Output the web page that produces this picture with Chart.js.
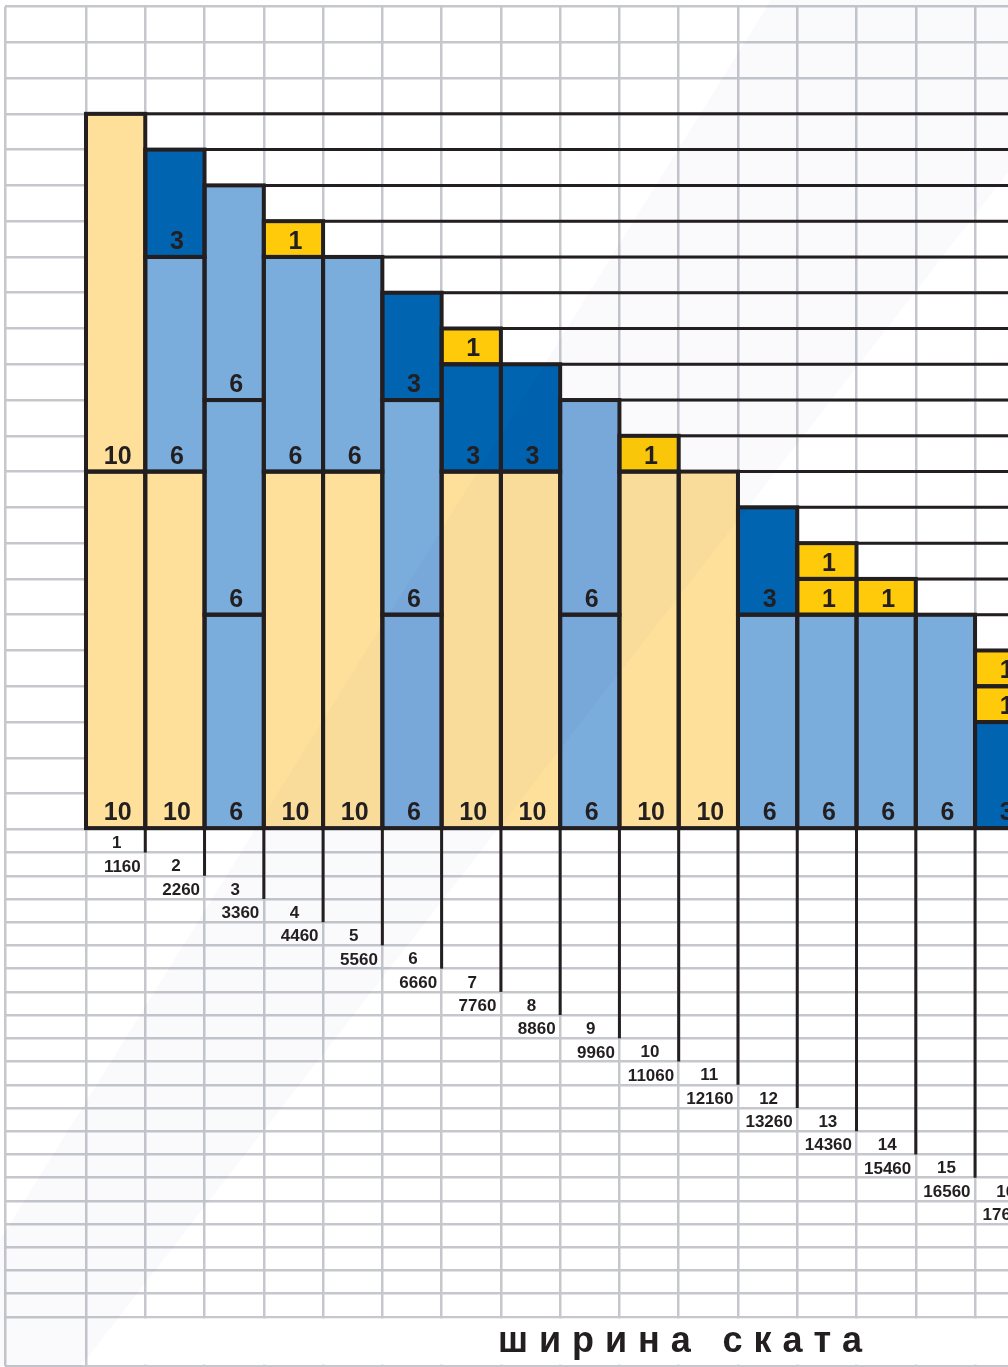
<!DOCTYPE html>
<html><head><meta charset="utf-8">
<script src="https://cdn.jsdelivr.net/npm/chart.js@4.4.1/dist/chart.umd.min.js"></script>
<style>html,body{margin:0;padding:0;background:#fff;overflow:hidden}canvas{display:block}</style>
</head><body>
<canvas id="c" width="1008" height="1367" style="width:1008px;height:1367px"></canvas>
<script>
// ---- data ----
const columns = [1, 2, 3, 4, 5, 6, 7, 8, 9, 10, 11, 12, 13, 14, 15, 16];
// sheet lengths stacked from the bottom of each column
const layer1 = [10, 10, 6, 10, 10, 6, 10, 10, 6, 10, 10, 6, 6, 6, 6, 3];
const layer2 = [10, 6, 6, 6, 6, 6, 3, 3, 6, 1, null, 3, 1, 1, null, 1];
const layer3 = [null, 3, 6, 1, null, 3, 1, null, null, null, null, null, 1, null, null, 1];
const widthLabels = ['1160', '2260', '3360', '4460', '5560', '6660', '7760', '8860', '9960', '11060', '12160', '13260', '14360', '15460', '16560', '17660'];
const titleText = 'ширина ската';

// ---- styles ----
const lengthColors = { 10: '#FEE09B', 6: '#7AACDC', 3: '#0064B1', 1: '#FFCA0A' };
const INK = '#231f20';
const GRID = '#c5c7cc';
const ROW = 0.649;           // height of one label row below the baseline (y units)
const LOWER_ROWS = 21;
const X_MIN = -0.8666, X_MAX = 16.056, Y_MIN = -15, Y_MAX = 23;

function layerDataset(vals, name) {
  return {
    label: name,
    data: columns.map((c, i) => ({ x: c, y: vals[i] })),
    backgroundColor: vals.map(v => v == null ? 'rgba(0,0,0,0)' : lengthColors[v]),
    borderWidth: 0,
    barPercentage: 1,
    categoryPercentage: 1,
    stack: 's'
  };
}

const sheetPlugin = {
  id: 'sheet',
  beforeDatasetsDraw(chart) {
    const { ctx, chartArea: a, scales: { x, y } } = chart;
    const x0 = x.getPixelForValue(0.5) + 2;
    const yTop = y.getPixelForValue(-LOWER_ROWS * ROW) + 1.6;
    ctx.save();
    ctx.fillStyle = '#fff';
    ctx.fillRect(x0, yTop, a.right - x0, a.bottom - 1.4 - yTop);
    ctx.restore();
  },
  afterDatasetsDraw(chart) {
    const { ctx, chartArea: a, scales: { x, y } } = chart;
    const dsets = chart.data.datasets;
    const metas = dsets.map((d, i) => chart.getDatasetMeta(i));
    ctx.save();
    // faint diagonal watermark band
    ctx.globalCompositeOperation = 'multiply';
    ctx.fillStyle = 'rgb(250,250,253)';
    ctx.beginPath();
    ctx.moveTo(771, 0); ctx.lineTo(1142, 0); ctx.lineTo(80, 1367); ctx.lineTo(-79, 1367); ctx.closePath();
    ctx.fill();
    ctx.globalCompositeOperation = 'source-over';

    ctx.strokeStyle = INK;
    ctx.fillStyle = INK;
    // staircase lines from each column top
    columns.forEach((c, i) => {
      let top = Infinity, left = 0;
      metas.forEach((m, k) => {
        if (dsets[k].data[i].y == null) return;
        const el = m.data[i];
        top = Math.min(top, el.y);
        left = el.x - el.width / 2;
      });
      ctx.lineWidth = 3;
      ctx.beginPath(); ctx.moveTo(left, top); ctx.lineTo(a.right, top); ctx.stroke();
    });
    // outlines
    ctx.lineWidth = 4;
    metas.forEach((m, k) => {
      m.data.forEach((el, i) => {
        if (dsets[k].data[i].y == null) return;
        ctx.strokeRect(el.x - el.width / 2, el.y, el.width, el.base - el.y);
      });
    });
    // segment labels
    ctx.font = 'bold 25px "Liberation Sans", Arial, sans-serif';
    ctx.textAlign = 'center';
    ctx.textBaseline = 'alphabetic';
    metas.forEach((m, k) => {
      m.data.forEach((el, i) => {
        const v = dsets[k].data[i].y;
        if (v == null) return;
        ctx.fillText(String(v), el.x + 2, el.base - 8);
      });
    });
    // lower staggered markers
    const base = y.getPixelForValue(0);
    ctx.lineWidth = 3;
    ctx.font = 'bold 17px "Liberation Sans", Arial, sans-serif';
    columns.forEach((n, i) => {
      const rx = x.getPixelForValue(n + 0.5);
      const endY = y.getPixelForValue(-n * ROW);
      ctx.beginPath(); ctx.moveTo(rx, base); ctx.lineTo(rx, endY); ctx.stroke();
      ctx.textAlign = 'center';
      ctx.fillText(String(n), x.getPixelForValue(n) + 1, endY - 4.3);
      ctx.textAlign = 'right';
      ctx.fillText(widthLabels[i], rx - 4.5, y.getPixelForValue(-(n + 1) * ROW) - 4);
    });
    // title
    ctx.font = 'bold 36px "Liberation Sans", Arial, sans-serif';
    ctx.textAlign = 'left';
    const chars = Array.from(titleText);
    const natural = chars.reduce((s, ch) => s + ctx.measureText(ch).width, 0);
    const tLeft = 498, tRight = 862;
    const gap = (tRight - tLeft - natural) / (chars.length - 1);
    let cx = tLeft;
    chars.forEach(ch => { ctx.fillText(ch, cx, 1352); cx += ctx.measureText(ch).width + gap; });
    ctx.restore();
  }
};

new Chart(document.getElementById('c'), {
  type: 'bar',
  data: { datasets: [layerDataset(layer1, 'layer1'), layerDataset(layer2, 'layer2'), layerDataset(layer3, 'layer3')] },
  options: {
    responsive: false,
    animation: false,
    layout: { padding: { left: 5, top: 6.5, right: 0, bottom: 1 } },
    plugins: { legend: { display: false }, tooltip: { enabled: false }, title: { display: false } },
    scales: {
      x: {
        type: 'linear', stacked: true, offset: false, min: X_MIN, max: X_MAX,
        afterBuildTicks: (s) => { s.ticks = [X_MIN].concat(columns.map(c => c - 0.5)).map(v => ({ value: v })); },
        ticks: { display: false },
        grid: { color: GRID, lineWidth: 2.5, drawTicks: false, offset: false },
        border: { display: false }
      },
      y: {
        type: 'linear', stacked: true, min: Y_MIN, max: Y_MAX,
        afterBuildTicks: (s) => {
          const t = [Y_MIN];
          for (let k = LOWER_ROWS; k >= 1; k--) t.push(-k * ROW);
          for (let v = 0; v <= Y_MAX; v++) t.push(v);
          s.ticks = t.map(v => ({ value: v }));
        },
        ticks: { display: false },
        grid: { color: GRID, lineWidth: 2.5, drawTicks: false },
        border: { display: false }
      }
    }
  },
  plugins: [sheetPlugin]
});
</script>
</body></html>
